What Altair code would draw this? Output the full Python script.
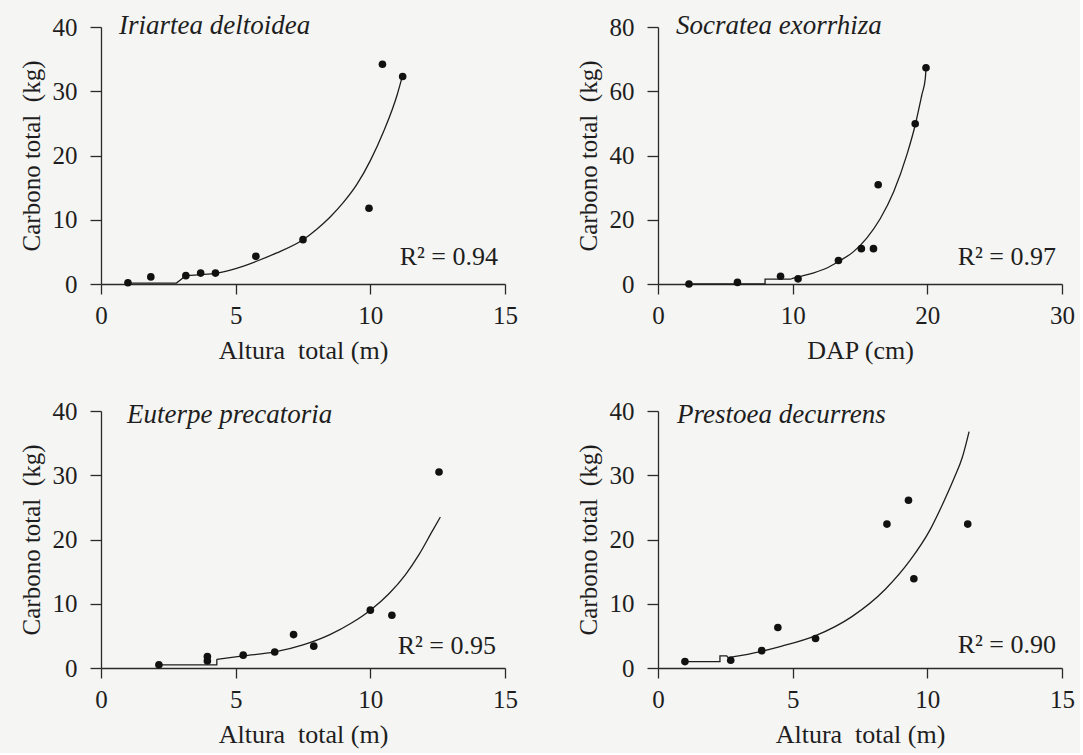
import altair as alt
import pandas as pd

FONT = "Liberation Serif"
INK = "#1e1e1e"
W, H = 404, 257

# ---- data ----
species = ["Iriartea deltoidea", "Socratea exorrhiza", "Euterpe precatoria", "Prestoea decurrens"]
r2_labels = ["R\u00b2 = 0.94", "R\u00b2 = 0.97", "R\u00b2 = 0.95", "R\u00b2 = 0.90"]
x_titles = ["Altura\u00a0 total (m)", "DAP (cm)", "Altura\u00a0 total (m)", "Altura\u00a0 total (m)"]
y_title = "Carbono total\u00a0 (kg)"
x_ticks = [[0, 5, 10, 15], [0, 10, 20, 30], [0, 5, 10, 15], [0, 5, 10, 15]]
y_ticks = [[0, 10, 20, 30, 40], [0, 20, 40, 60, 80], [0, 10, 20, 30, 40], [0, 10, 20, 30, 40]]

# observed points
p1_x = [1.0, 1.85, 3.15, 3.7, 4.25, 5.75, 7.5, 9.95, 10.45, 11.2]
p1_y = [0.2, 1.1, 1.3, 1.7, 1.7, 4.3, 6.9, 11.8, 34.2, 32.3]
p2_x = [2.3, 5.9, 9.1, 10.4, 13.4, 15.1, 16.0, 16.35, 19.1, 19.9]
p2_y = [0.0, 0.5, 2.4, 1.6, 7.3, 11.0, 11.0, 30.9, 49.9, 67.3]
p3_x = [2.15, 3.95, 3.95, 5.28, 6.45, 7.15, 7.9, 10.0, 10.8, 12.55]
p3_y = [0.5, 1.8, 1.1, 2.0, 2.5, 5.2, 3.4, 9.0, 8.2, 30.5]
p4_x = [1.0, 2.7, 3.85, 4.45, 5.85, 8.5, 9.3, 9.5, 11.5]
p4_y = [1.0, 1.2, 2.7, 6.3, 4.6, 22.4, 26.1, 13.9, 22.4]

# fitted line: the stepped start and the smooth part, both
s1_x = [1.0, 2.8, 3.15]
s1_y = [0.15, 0.15, 1.3]
c1_x = [3.15, 3.7, 4.3, 5.0, 5.75, 6.5, 7.5, 8.0, 8.5, 9.0, 9.5, 10.0, 10.5, 11.0, 11.2]
c1_y = [1.3, 1.45, 1.7, 2.4, 3.5, 4.8, 6.9, 8.5, 10.4, 12.7, 15.5, 19.2, 23.8, 29.5, 32.5]
s2_x = [2.3, 7.95, 7.95, 9.9]
s2_y = [0.0, 0.0, 1.5, 1.5]
c2_x = [9.9, 10.4, 11.5, 12.5, 13.4, 14.5, 15.5, 16.5, 17.5, 18.5, 19.1, 19.6, 19.85, 19.9]
c2_y = [1.6, 2.2, 3.4, 4.9, 7.0, 10.0, 14.3, 20.3, 28.7, 40.5, 49.5, 59.0, 64.0, 67.0]
s3_x = [2.15, 4.3, 4.3]
s3_y = [0.5, 0.5, 1.35]
c3_x = [4.3, 5.28, 6.45, 7.5, 8.5, 9.3, 10.0, 10.7, 11.3, 11.8, 12.3, 12.6]
c3_y = [1.35, 1.9, 2.5, 3.6, 5.2, 7.0, 9.0, 11.6, 14.5, 17.6, 21.3, 23.5]
s4_x = [1.0, 2.3, 2.3, 2.55, 2.6]
s4_y = [1.0, 1.0, 1.9, 1.9, 1.6]
c4_x = [2.6, 3.85, 4.6, 5.83, 7.2, 8.45, 9.35, 10.1, 10.6, 11.0, 11.3, 11.55]
c4_y = [1.6, 2.6, 3.4, 5.0, 8.0, 12.3, 16.7, 21.5, 25.8, 29.6, 32.8, 36.8]

points = [(p1_x, p1_y), (p2_x, p2_y), (p3_x, p3_y), (p4_x, p4_y)]
steps = [(s1_x, s1_y), (s2_x, s2_y), (s3_x, s3_y), (s4_x, s4_y)]
curves = [(c1_x, c1_y), (c2_x, c2_y), (c3_x, c3_y), (c4_x, c4_y)]

# label placement inside each panel (pixels from plot origin)
name_dx = [18, 18, 26, 19]
name_dy = [-1, -1, 4, 4]
r2_dx = [7, 6, 9, 6]
r2_dy = [27, 27, 22, 23]


def panel(i):
    xmax = x_ticks[i][-1]
    ymax = y_ticks[i][-1]
    xenc = alt.X("x:Q", scale=alt.Scale(domain=[0, xmax], nice=False),
                 axis=alt.Axis(values=x_ticks[i], format="d", title=x_titles[i]))
    yenc = alt.Y("y:Q", scale=alt.Scale(domain=[0, ymax], nice=False),
                 axis=alt.Axis(values=y_ticks[i], format="d", title=y_title))

    pts = alt.Chart(pd.DataFrame({"x": points[i][0], "y": points[i][1]})).mark_circle(
        size=58, color="#111111", opacity=1).encode(x=xenc, y=yenc)
    stp = alt.Chart(pd.DataFrame({"x": steps[i][0], "y": steps[i][1], "o": list(range(len(steps[i][0])))})).mark_line(
        color=INK, strokeWidth=1.3).encode(x=xenc, y=yenc, order="o:Q")
    crv = alt.Chart(pd.DataFrame({"x": curves[i][0], "y": curves[i][1]})).mark_line(
        color=INK, strokeWidth=1.3, interpolate="monotone").encode(x=xenc, y=yenc)
    name = alt.Chart(pd.DataFrame({"t": [species[i]]})).mark_text(
        font=FONT, fontSize=27, fontStyle="italic", align="left", baseline="middle", color=INK
    ).encode(x=alt.value(name_dx[i]), y=alt.value(name_dy[i]), text="t:N")
    r2 = alt.Chart(pd.DataFrame({"t": [r2_labels[i]]})).mark_text(
        font=FONT, fontSize=26, align="right", baseline="middle", color=INK
    ).encode(x=alt.value(W - r2_dx[i]), y=alt.value(H - r2_dy[i]), text="t:N")
    return alt.layer(stp, crv, pts, name, r2).properties(width=W, height=H)


chart = alt.concat(
    *[panel(i) for i in range(4)],
    columns=2,
    spacing={"row": 127, "column": 153},
    bounds="flush",
).properties(
    padding={"left": 18, "top": 11, "right": 5, "bottom": 5},
    background="#f5f5f3",
).configure_view(
    stroke="transparent"
).configure_axis(
    grid=False,
    domainColor="#2a2a2a",
    domainWidth=1.3,
    tickColor="#2a2a2a",
    tickWidth=1.3,
    labelFont=FONT,
    labelFontSize=25,
    labelColor=INK,
    labelFlush=False,
    titleFont=FONT,
    titleFontWeight="normal",
    titleColor=INK,
).configure_axisX(
    tickSize=10, labelPadding=9, titlePadding=9, titleFontSize=26
).configure_axisY(
    tickSize=11, labelPadding=13, titlePadding=8, titleFontSize=25
)

chart.save("out.html", embed_options={"renderer": "svg", "actions": False})
